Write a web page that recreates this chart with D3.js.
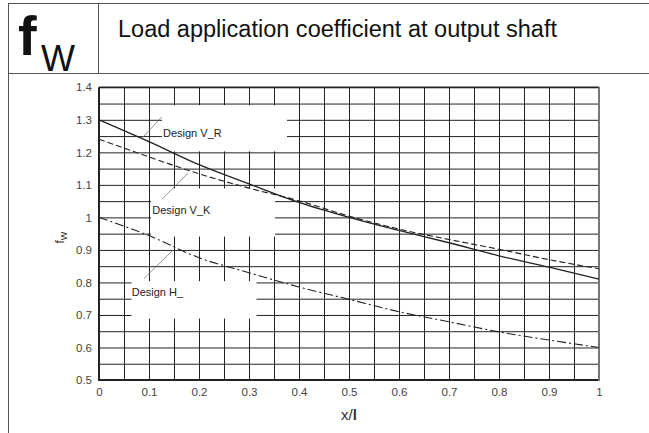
<!DOCTYPE html>
<html>
<head>
<meta charset="utf-8">
<script src="https://cdn.jsdelivr.net/npm/d3@7"></script>
<style>
  html, body { margin: 0; padding: 0; background: #fff; }
  svg { display: block; }
  text { font-family: "Liberation Sans", Arial, sans-serif; }
</style>
</head>
<body>
<svg id="chart" width="649" height="433"></svg>
<script>
// ---- data ----
const xValues = [0, 0.1, 0.2, 0.3, 0.4, 0.5, 0.6, 0.7, 0.8, 0.9, 1.0];
const designVR = [1.300, 1.233, 1.162, 1.103, 1.046, 1.000, 0.960, 0.922, 0.882, 0.847, 0.810];
const designVK = [1.240, 1.186, 1.134, 1.090, 1.051, 1.004, 0.964, 0.932, 0.902, 0.870, 0.842];
const designH  = [1.000, 0.944, 0.876, 0.830, 0.786, 0.748, 0.710, 0.679, 0.648, 0.623, 0.600];
const xTicks = [0, 0.1, 0.2, 0.3, 0.4, 0.5, 0.6, 0.7, 0.8, 0.9, 1];
const yTicks = [0.5, 0.6, 0.7, 0.8, 0.9, 1, 1.1, 1.2, 1.3, 1.4];
const xGrid = d3.range(0, 21).map(i => i * 0.05);
const yGrid = d3.range(0, 19).map(i => 0.5 + i * 0.05);
const seriesNames = ["Design V_R", "Design V_K", "Design H_"];
const titleText = "Load application coefficient at output shaft";

// ---- layout ----
const svg = d3.select("#chart");
const pLeft = 99, pRight = 599, pTop = 87.3, pBottom = 380;
const x = d3.scaleLinear().domain([0, 1]).range([pLeft, pRight]);
const y = d3.scaleLinear().domain([0.5, 1.4]).range([pBottom, pTop]);
const ink = "#222";

// ---- header frame ----
const frame = svg.append("g").attr("stroke", "#555").attr("stroke-width", 1).attr("fill", "none");
frame.append("line").attr("x1", 8).attr("x2", 649).attr("y1", 3.5).attr("y2", 3.5);
frame.append("line").attr("x1", 8.5).attr("x2", 8.5).attr("y1", 3).attr("y2", 433);
frame.append("line").attr("x1", 98.5).attr("x2", 98.5).attr("y1", 3).attr("y2", 73);
frame.append("line").attr("x1", 8).attr("x2", 649).attr("y1", 73.5).attr("y2", 73.5);

svg.append("text").attr("x", 18).attr("y", 55)
  .attr("font-size", 56).attr("font-weight", "bold").attr("fill", "#111").text("f");
svg.append("text").attr("x", 41).attr("y", 71)
  .attr("font-size", 36).attr("fill", "#111").text("W");
svg.append("text").attr("x", 118).attr("y", 37)
  .attr("font-size", 23.5).attr("fill", "#111")
  .attr("textLength", 439).attr("lengthAdjust", "spacingAndGlyphs")
  .text(titleText);

// ---- grid ----
const plotW = pRight - pLeft, plotH = pBottom - pTop;
svg.append("g").attr("transform", `translate(0,${pBottom})`)
  .call(d3.axisBottom(x).tickValues(xGrid).tickSize(-plotH).tickFormat(""))
  .call(g => g.select(".domain").remove())
  .call(g => g.selectAll(".tick line").attr("stroke", ink).attr("stroke-width", 1));
svg.append("g").attr("transform", `translate(${pLeft},0)`)
  .call(d3.axisLeft(y).tickValues(yGrid).tickSize(-plotW).tickFormat(""))
  .call(g => g.select(".domain").remove())
  .call(g => g.selectAll(".tick line").attr("stroke", ink).attr("stroke-width", 1));

// ---- label background boxes (data units) ----
const boxes = [
  { x0: 0.126, x1: 0.376, y0: 1.345, y1: 1.203 },
  { x0: 0.104, x1: 0.352, y0: 1.089, y1: 0.941 },
  { x0: 0.065, x1: 0.315, y0: 0.804, y1: 0.689 }
];
svg.append("g").selectAll("rect").data(boxes).join("rect")
  .attr("x", d => x(d.x0)).attr("y", d => y(d.y0))
  .attr("width", d => x(d.x1) - x(d.x0)).attr("height", d => y(d.y1) - y(d.y0))
  .attr("fill", "#fff");

// ---- plot border ----
svg.append("line").attr("x1", pLeft).attr("x2", pLeft).attr("y1", pTop).attr("y2", pBottom)
  .attr("stroke", ink).attr("stroke-width", 2);
svg.append("line").attr("x1", pLeft - 1).attr("x2", pRight).attr("y1", pBottom).attr("y2", pBottom)
  .attr("stroke", ink).attr("stroke-width", 2);
svg.append("line").attr("x1", pLeft).attr("x2", pRight).attr("y1", pTop).attr("y2", pTop)
  .attr("stroke", ink).attr("stroke-width", 1.5);
svg.append("line").attr("x1", pRight).attr("x2", pRight).attr("y1", pTop).attr("y2", pBottom + 1)
  .attr("stroke", "#777").attr("stroke-width", 2);

// ---- axes labels ----
svg.append("g").attr("transform", `translate(${pLeft},0)`)
  .call(d3.axisLeft(y).tickValues(yTicks).tickSize(0).tickPadding(7).tickFormat(d3.format("~g")))
  .call(g => g.select(".domain").remove())
  .call(g => g.selectAll("text").attr("font-size", 11.5).attr("fill", "#444")
    .attr("font-family", "Liberation Sans, Arial, sans-serif"));
svg.append("g").attr("transform", `translate(0,${pBottom})`)
  .call(d3.axisBottom(x).tickValues(xTicks).tickSize(0).tickPadding(8).tickFormat(d3.format("~g")))
  .call(g => g.select(".domain").remove())
  .call(g => g.selectAll("text").attr("font-size", 11.5).attr("fill", "#444")
    .attr("font-family", "Liberation Sans, Arial, sans-serif"));

const yl = svg.append("text").attr("transform", `translate(64,${(pTop + pBottom) / 2 + 4}) rotate(-90)`)
  .attr("text-anchor", "middle").attr("font-size", 12).attr("fill", "#333");
yl.append("tspan").text("f");
yl.append("tspan").attr("dy", 3).attr("font-size", 9).text("W");

const xl = svg.append("text").attr("x", x(0.5)).attr("y", 420)
  .attr("text-anchor", "middle").attr("font-size", 15).attr("fill", "#333");
xl.append("tspan").text("x/");
xl.append("tspan").attr("font-weight", "bold").text("l");

// ---- curves ----
const line = d3.line().x(d => x(d[0])).y(d => y(d[1])).curve(d3.curveMonotoneX);
const series = [
  { values: designVR, dash: null, width: 1.3 },
  { values: designVK, dash: "6,3", width: 1.1 },
  { values: designH, dash: "9,3,2,3", width: 1.1 }
];
svg.append("g").selectAll("path").data(series).join("path")
  .attr("d", s => line(xValues.map((xv, i) => [xv, s.values[i]])))
  .attr("fill", "none").attr("stroke", ink)
  .attr("stroke-width", s => s.width)
  .attr("stroke-dasharray", s => s.dash);

// ---- annotations ----
const labels = [
  { name: seriesNames[0], tx: 0.128, ty: 1.246, lx0: 0.1254, ly0: 1.309, lx1: 0.0854, ly1: 1.2425 },
  { name: seriesNames[1], tx: 0.1066, ty: 1.010, lx0: 0.1254, ly0: 1.055, lx1: 0.1786, ly1: 1.1367 },
  { name: seriesNames[2], tx: 0.0654, ty: 0.758, lx0: 0.090, ly0: 0.8123, lx1: 0.148, ly1: 0.8993 }
];
svg.append("g").selectAll("line").data(labels).join("line")
  .attr("x1", d => x(d.lx0)).attr("y1", d => y(d.ly0))
  .attr("x2", d => x(d.lx1)).attr("y2", d => y(d.ly1))
  .attr("stroke", "#777").attr("stroke-width", 0.8);
svg.append("g").selectAll("text").data(labels).join("text")
  .attr("x", d => x(d.tx)).attr("y", d => y(d.ty))
  .attr("font-size", 11).attr("fill", "#222")
  .text(d => d.name);
</script>
</body>
</html>
